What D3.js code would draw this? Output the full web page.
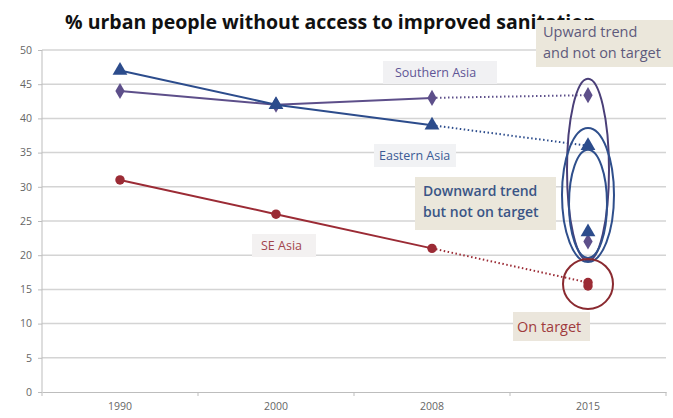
<!DOCTYPE html>
<meta charset="utf-8">
<style>
body{margin:0;background:#fff;}
text{font-family:"Open Sans",sans-serif;}
.grid line{stroke:#d4d4d4;stroke-width:1.5px;}
.axis text{fill:#666;font-size:10.5px;}
.axis path,.axis line{stroke:#bdbdbd;}
</style>
<body>
<script src="https://d3js.org/d3.v7.min.js"></script>
<script>

var years=["1990","2000","2008","2015"];
var yTicks=[0,5,10,15,20,25,30,35,40,45,50];
// observed values
var eastern=[47,42,39];
var southern=[44,42,43];
var seAsia=[31,26,21];
// 2015 projection on current trend
var easternProj=36, southernProj=43.4, seAsiaProj=16;
// 2015 target values
var easternTarget=23.4, southernTarget=22, seAsiaTarget=15.5;

var W=673,H=418;
var svg=d3.select("body").append("svg").attr("width",W).attr("height",H);

var x=d3.scaleBand().domain(years).range([42,666]).padding(0);
var y=d3.scaleLinear().domain([0,50]).range([392,50]);
var cx=d=>x(d)+x.bandwidth()/2;
var k=y(0)-y(1); // px per unit

// gridlines
svg.append("g").attr("class","grid").selectAll("line").data(yTicks.slice(1)).enter()
	.append("line").attr("x1",42).attr("x2",666).attr("y1",d=>y(d)).attr("y2",d=>y(d));

var ya=svg.append("g").attr("class","axis").attr("transform","translate(42,0)")
	.call(d3.axisLeft(y).tickValues(yTicks).tickSize(4).tickPadding(6));
ya.select(".domain").attr("d","M0,"+y(0)+"V"+y(50));

var xa=svg.append("g").attr("class","axis").attr("transform","translate(0,"+y(0)+")")
	.call(d3.axisBottom(x).tickSize(0).tickPadding(11));
xa.selectAll(".tick line").remove();
xa.selectAll("line.sep").data(d3.range(years.length+1)).enter().append("line")
	.attr("class","sep")
	.attr("x1",i=>42+i*x.bandwidth()).attr("x2",i=>42+i*x.bandwidth())
	.attr("y1",0).attr("y2",4).attr("stroke","#bdbdbd");

// title
svg.append("text").attr("x",65).attr("y",29)
	.style("font-size","19.5px").style("font-weight","bold").attr("fill","#111")
	.text("% urban people without access to improved sanitation");

var series=[
	{name:"Southern Asia",vals:southern,proj:southernProj,target:southernTarget,color:"#5d4f8a",sym:d3.symbolDiamond,size:75},
	{name:"Eastern Asia",vals:eastern,proj:easternProj,target:easternTarget,color:"#2c4c8c",sym:d3.symbolTriangle,size:95},
	{name:"SE Asia",vals:seAsia,proj:seAsiaProj,target:seAsiaTarget,color:"#9b2b35",sym:d3.symbolCircle,size:70}
];

var line=d3.line().x((d,i)=>cx(years[i])).y(d=>y(d));

series.forEach(function(s){
	var g=svg.append("g");
	g.append("path").attr("d",line(s.vals)).attr("fill","none")
		.attr("stroke",s.color).attr("stroke-width",2);
	g.append("line").attr("x1",cx("2008")).attr("y1",y(s.vals[2]))
		.attr("x2",cx("2015")).attr("y2",y(s.proj))
		.attr("stroke",s.color).attr("stroke-width",2).attr("stroke-dasharray","1.5,2.5");
	var pts=s.vals.map((v,i)=>[cx(years[i]),y(v)]);
	pts.push([cx("2015"),y(s.proj)]);
	pts.push([cx("2015"),y(s.target)]);
	g.selectAll("path.m").data(pts).enter().append("path")
		.attr("transform",d=>"translate("+d[0]+","+d[1]+")")
		.attr("d",d3.symbol().type(s.sym).size(s.size)).attr("fill",s.color);
});

// ellipses round the 2015 points (centre and half-height in data units)
var ex=cx("2015");
svg.append("ellipse").attr("cx",ex).attr("cy",y(32.5)).attr("rx",21).attr("ry",13.3*k)
	.attr("fill","none").attr("stroke","#4a3f78").attr("stroke-width",2);
svg.append("ellipse").attr("cx",ex).attr("cy",y(28.8)).attr("rx",26).attr("ry",9.8*k)
	.attr("fill","none").attr("stroke","#2f4f8c").attr("stroke-width",2);
svg.append("ellipse").attr("cx",ex).attr("cy",y(27.5)).attr("rx",19).attr("ry",7.9*k)
	.attr("fill","none").attr("stroke","#2f4f8c").attr("stroke-width",2);
svg.append("circle").attr("cx",ex).attr("cy",y(15.8)).attr("r",25)
	.attr("fill","none").attr("stroke","#8a2a30").attr("stroke-width",2);

// labels and notes
function box(x0,y0,w,h,fill,lines,color,size,bold,tx,ty){
	var g=svg.append("g");
	g.append("rect").attr("x",x0).attr("y",y0).attr("width",w).attr("height",h).attr("fill",fill);
	lines.forEach(function(t,i){
		g.append("text").attr("x",tx).attr("y",y0+ty+i*21).attr("fill",color)
			.style("font-size",size+"px").style("font-weight",bold?"600":"normal").text(t);
	});
}
box(383,61,114,23,"#f1f1f3",["Southern Asia"],"#5f5596",12.5,false,395,16);
box(374,144,82,23,"#f1f2f4",["Eastern Asia"],"#3b5b95",12.5,false,379,16);
box(252,234,64,23,"#f3f1f1",["SE Asia"],"#a2444b",12.5,false,261,16);
box(415,177,141,53,"#ebe7db",["Downward trend","but not on target"],"#3a5586",14,true,423,19);
box(536,20,137,47,"#ebe7db",["Upward trend","and not on target"],"#5e5a7c",14.5,false,543,17);
box(513,312,77,29,"#ebe6dc",["On target"],"#a03b3d",14.5,false,517,20);

</script>
</body>
